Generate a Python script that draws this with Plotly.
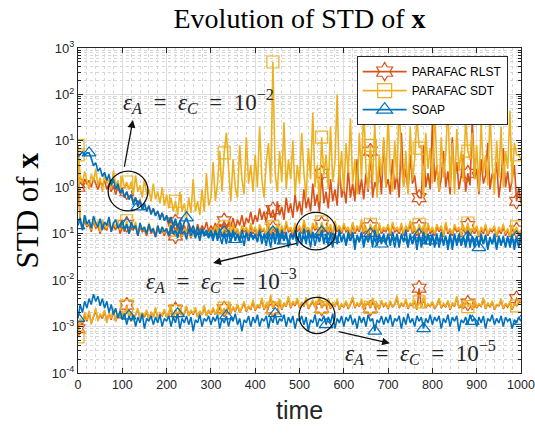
import plotly.graph_objects as go

# ---------------- data ----------------
time = list(range(0, 1001, 5))

# noise level 1e-2
soap_e2 = [4.5, 5.0, 5.8, 4.9, 5.5, 5.5, 4.2, 2.9, 3.4, 2.2, 2.6, 1.7, 2.1, 1.4, 1.9, 1.1, 1.5, 0.9, 1.2, 0.75,
           0.95, 0.6, 0.8, 0.55, 0.7, 0.42, 0.6, 0.38, 0.5, 0.33, 0.45, 0.3, 0.4, 0.26, 0.35, 0.24, 0.31, 0.2, 0.28, 0.19,
           0.25, 0.17, 0.23, 0.15, 0.21, 0.14, 0.19, 0.12, 0.18, 0.22, 0.16, 0.11, 0.15, 0.1, 0.14, 0.095, 0.13, 0.1, 0.12, 0.09,
           0.12, 0.085, 0.11, 0.07, 0.13, 0.09, 0.1, 0.06, 0.12, 0.085, 0.11, 0.075, 0.095, 0.065, 0.12, 0.08, 0.1, 0.07, 0.11, 0.08,
           0.1, 0.065, 0.12, 0.08, 0.09, 0.055, 0.11, 0.075, 0.1, 0.06, 0.13, 0.08, 0.095, 0.07, 0.11, 0.05, 0.1, 0.075, 0.12, 0.07,
           0.1, 0.06, 0.13, 0.075, 0.095, 0.05, 0.11, 0.08, 0.1, 0.065, 0.12, 0.07, 0.09, 0.055, 0.11, 0.075, 0.1, 0.06, 0.12, 0.07,
           0.09, 0.06, 0.11, 0.07, 0.1, 0.045, 0.095, 0.07, 0.11, 0.06, 0.09, 0.065, 0.1, 0.05, 0.12, 0.07, 0.09, 0.06, 0.1, 0.065,
           0.095, 0.055, 0.11, 0.07, 0.09, 0.05, 0.1, 0.065, 0.12, 0.06, 0.085, 0.06, 0.1, 0.045, 0.09, 0.065, 0.11, 0.06, 0.09, 0.07,
           0.1, 0.05, 0.09, 0.065, 0.11, 0.055, 0.085, 0.06, 0.1, 0.045, 0.09, 0.065, 0.1, 0.055, 0.08, 0.06, 0.11, 0.05, 0.09, 0.06,
           0.085, 0.05, 0.1, 0.06, 0.09, 0.045, 0.08, 0.06, 0.1, 0.05, 0.085, 0.055, 0.09, 0.05, 0.08, 0.06, 0.095, 0.045, 0.08, 0.055,
           0.07]
sdt_e2 = [8.0, 1.8, 1.2, 2.2, 1.4, 0.9, 1.9, 1.3, 2.5, 1.1, 1.6, 0.8, 2.0, 1.2, 1.5, 0.9, 2.3, 1.1, 1.4, 0.85,
          1.7, 1.0, 1.3, 0.9, 1.3, 0.7, 1.8, 0.8, 1.1, 0.6, 1.5, 0.7, 0.9, 0.5, 1.2, 0.55, 0.8, 0.45, 1.0, 0.4,
          0.7, 0.35, 0.6, 0.3, 0.5, 0.25, 0.8, 0.3, 0.45, 0.22, 0.6, 0.28, 1.5, 0.3, 0.5, 0.25, 0.9, 0.3, 2.0, 0.4,
          0.6, 3.5, 0.5, 1.2, 6.0, 0.8, 5.5, 15.0, 2.5, 0.5, 4.0, 1.0, 0.6, 8.0, 1.5, 0.7, 12.0, 1.2, 3.0, 0.8,
          5.0, 1.0, 20.0, 1.5, 0.6, 3.5, 9.0, 1.2, 500.0, 2.0, 0.8, 6.0, 1.3, 25.0, 0.9, 4.0, 1.5, 10.0, 0.7, 3.0,
          1.2, 15.0, 2.0, 0.6, 7.0, 1.5, 40.0, 1.0, 3.0, 0.5, 12.0, 1.8, 5.0, 0.9, 20.0, 1.3, 3.5, 100.0, 1.1, 6.0,
          0.8, 9.0, 2.0, 30.0, 1.2, 4.0, 0.7, 15.0, 1.5, 60.0, 2.5, 0.9, 8.0, 1.3, 25.0, 0.6, 5.0, 1.8, 12.0, 1.0,
          40.0, 2.0, 0.8, 10.0, 1.5, 90.0, 3.0, 1.0, 6.0, 0.7, 20.0, 1.4, 4.0, 35.0, 7.0, 8.0, 0.6, 15.0, 2.5, 7.0,
          1.2, 50.0, 3.0, 0.8, 12.0, 1.6, 5.0, 70.0, 1.0, 9.0, 0.7, 18.0, 2.2, 6.0, 1.3, 30.0, 6.0, 4.0, 15.0, 1.5,
          8.0, 0.8, 25.0, 2.0, 5.0, 1.1, 40.0, 3.0, 0.7, 10.0, 1.6, 20.0, 1.0, 6.0, 2.5, 45.0, 1.2, 9.0, 5.0, 5.0,
          4.0]
rlst_e2 = [1.0, 1.3, 1.1, 1.5, 1.2, 1.4, 1.0, 1.6, 1.2, 0.9, 1.3, 1.1, 1.4, 0.9, 1.2, 0.8, 1.1, 0.7, 1.0, 0.75,
           0.9, 0.6, 0.8, 0.55, 0.7, 0.5, 0.6, 0.4, 0.55, 0.35, 0.45, 0.3, 0.4, 0.28, 0.35, 0.25, 0.3, 0.22, 0.28, 0.2,
           0.22, 0.15, 0.2, 0.13, 0.18, 0.12, 0.16, 0.11, 0.15, 0.1, 0.17, 0.12, 0.14, 0.1, 0.16, 0.11, 0.15, 0.12, 0.18, 0.11,
           0.15, 0.12, 0.17, 0.11, 0.16, 0.13, 0.19, 0.12, 0.18, 0.14, 0.22, 0.13, 0.2, 0.15, 0.25, 0.14, 0.22, 0.17, 0.3, 0.16,
           0.25, 0.18, 0.35, 0.2, 0.3, 0.17, 0.4, 0.22, 0.33, 0.19, 0.5, 0.25, 0.38, 0.2, 0.6, 0.28, 0.45, 0.22, 0.7, 0.3,
           0.5, 0.25, 0.9, 0.35, 0.6, 0.3, 1.2, 0.4, 0.7, 0.3, 2.0, 0.45, 0.8, 0.35, 1.5, 0.5, 0.9, 0.4, 3.0, 0.6,
           1.0, 0.45, 2.5, 0.6, 1.2, 0.5, 4.0, 0.7, 1.5, 0.55, 2.0, 0.8, 6.0, 0.6, 1.3, 0.9, 3.0, 0.7, 10.0, 1.0,
           1.5, 0.7, 4.0, 0.9, 2.0, 0.6, 15.0, 1.1, 2.5, 0.8, 5.0, 1.2, 1.8, 0.7, 0.6, 0.6, 8.0, 1.0, 2.0, 0.9,
           25.0, 1.3, 3.0, 0.8, 1.6, 6.0, 1.0, 2.2, 0.7, 12.0, 1.4, 3.5, 0.9, 1.8, 5.0, 0.8, 2.0, 1.1, 30.0, 1.5,
           2.5, 0.7, 4.0, 1.2, 1.8, 9.0, 0.9, 2.0, 1.3, 3.5, 0.6, 1.5, 7.0, 1.0, 2.2, 0.8, 1.5, 3.0, 0.5, 1.0,
           0.45]

# noise level 1e-3
soap_e3 = [0.15, 0.22, 0.12, 0.25, 0.16, 0.2, 0.13, 0.24, 0.17, 0.14, 0.21, 0.12, 0.18, 0.15, 0.23, 0.11, 0.17, 0.2, 0.13, 0.16,
           0.19, 0.12, 0.16, 0.1, 0.18, 0.13, 0.15, 0.09, 0.17, 0.12, 0.14, 0.1, 0.16, 0.11, 0.13, 0.085, 0.15, 0.1, 0.14, 0.11,
           0.13, 0.09, 0.15, 0.1, 0.12, 0.08, 0.14, 0.1, 0.11, 0.075, 0.13, 0.09, 0.12, 0.08, 0.11, 0.07, 0.12, 0.09, 0.1, 0.08,
           0.1, 0.07, 0.12, 0.08, 0.09, 0.06, 0.11, 0.085, 0.1, 0.065, 0.12, 0.07, 0.1, 0.08, 0.09, 0.055, 0.11, 0.07, 0.1, 0.075,
           0.09, 0.07, 0.11, 0.06, 0.1, 0.08, 0.085, 0.05, 0.11, 0.07, 0.1, 0.06, 0.12, 0.075, 0.09, 0.06, 0.1, 0.08, 0.095, 0.055,
           0.11, 0.07, 0.09, 0.06, 0.12, 0.08, 0.1, 0.055, 0.09, 0.07, 0.11, 0.06, 0.1, 0.075, 0.085, 0.05, 0.1, 0.07, 0.11, 0.065,
           0.1, 0.055, 0.09, 0.07, 0.11, 0.06, 0.085, 0.065, 0.1, 0.05, 0.09, 0.07, 0.1, 0.06, 0.08, 0.055, 0.1, 0.065, 0.09, 0.06,
           0.1, 0.065, 0.085, 0.05, 0.1, 0.06, 0.09, 0.07, 0.08, 0.05, 0.1, 0.06, 0.085, 0.065, 0.095, 0.05, 0.08, 0.06, 0.1, 0.055,
           0.085, 0.06, 0.1, 0.05, 0.08, 0.065, 0.09, 0.045, 0.085, 0.06, 0.1, 0.055, 0.08, 0.06, 0.09, 0.05, 0.085, 0.065, 0.08, 0.05,
           0.09, 0.055, 0.08, 0.06, 0.095, 0.05, 0.085, 0.06, 0.08, 0.045, 0.09, 0.06, 0.075, 0.055, 0.09, 0.05, 0.08, 0.06, 0.085, 0.05,
           0.1]
sdt_e3 = [5.0, 0.2, 0.13, 0.25, 0.15, 0.18, 0.12, 0.22, 0.14, 0.19, 0.11, 0.2, 0.15, 0.13, 0.22, 0.12, 0.17, 0.14, 0.2, 0.12,
          0.16, 0.12, 0.19, 0.11, 0.15, 0.13, 0.18, 0.1, 0.16, 0.12, 0.14, 0.1, 0.17, 0.12, 0.13, 0.09, 0.15, 0.11, 0.14, 0.1,
          0.13, 0.09, 0.15, 0.11, 0.12, 0.1, 0.14, 0.09, 0.13, 0.11, 0.12, 0.085, 0.14, 0.1, 0.12, 0.09, 0.13, 0.1, 0.12, 0.095,
          0.13, 0.1, 0.15, 0.11, 0.12, 0.09, 0.14, 0.12, 0.13, 0.1, 0.16, 0.11, 0.13, 0.09, 0.15, 0.12, 0.14, 0.1, 0.17, 0.11,
          0.14, 0.1, 0.16, 0.12, 0.13, 0.09, 0.18, 0.11, 0.14, 0.12, 0.16, 0.1, 0.15, 0.11, 0.19, 0.12, 0.14, 0.1, 0.17, 0.12,
          0.15, 0.11, 0.2, 0.12, 0.14, 0.1, 0.17, 0.13, 0.15, 0.1, 0.18, 0.12, 0.14, 0.11, 0.16, 0.1, 0.19, 0.12, 0.15, 0.11,
          0.17, 0.12, 0.14, 0.1, 0.18, 0.11, 0.15, 0.12, 0.2, 0.11, 0.14, 0.1, 0.16, 0.12, 0.15, 0.09, 0.17, 0.11, 0.14, 0.12,
          0.16, 0.1, 0.18, 0.12, 0.14, 0.11, 0.17, 0.1, 0.15, 0.12, 0.19, 0.11, 0.14, 0.1, 0.16, 0.12, 0.15, 0.09, 0.17, 0.11,
          0.14, 0.1, 0.16, 0.12, 0.15, 0.09, 0.18, 0.11, 0.13, 0.1, 0.16, 0.12, 0.14, 0.09, 0.15, 0.11, 0.17, 0.1, 0.13, 0.11,
          0.15, 0.09, 0.14, 0.11, 0.16, 0.1, 0.13, 0.12, 0.15, 0.09, 0.14, 0.11, 0.16, 0.1, 0.13, 0.09, 0.15, 0.11, 0.14, 0.1,
          0.12]
rlst_e3 = [1.2, 0.18, 0.12, 0.2, 0.14, 0.16, 0.11, 0.19, 0.13, 0.15, 0.1, 0.17, 0.13, 0.12, 0.18, 0.11, 0.15, 0.12, 0.17, 0.1,
           0.14, 0.11, 0.16, 0.1, 0.13, 0.12, 0.15, 0.09, 0.14, 0.11, 0.12, 0.09, 0.15, 0.1, 0.12, 0.085, 0.13, 0.1, 0.12, 0.09,
           0.12, 0.085, 0.13, 0.1, 0.09, 0.09, 0.12, 0.085, 0.12, 0.1, 0.11, 0.08, 0.12, 0.09, 0.11, 0.085, 0.12, 0.09, 0.11, 0.09,
           0.12, 0.09, 0.13, 0.1, 0.11, 0.085, 0.12, 0.11, 0.12, 0.09, 0.14, 0.1, 0.12, 0.085, 0.13, 0.11, 0.12, 0.09, 0.15, 0.1,
           0.13, 0.09, 0.14, 0.11, 0.12, 0.085, 0.15, 0.1, 0.13, 0.11, 0.14, 0.09, 0.13, 0.1, 0.16, 0.11, 0.12, 0.09, 0.15, 0.11,
           0.13, 0.1, 0.17, 0.11, 0.12, 0.09, 0.15, 0.12, 0.13, 0.09, 0.16, 0.11, 0.12, 0.1, 0.14, 0.09, 0.16, 0.11, 0.13, 0.1,
           0.15, 0.11, 0.12, 0.09, 0.16, 0.1, 0.13, 0.11, 0.17, 0.1, 0.12, 0.09, 0.14, 0.11, 0.13, 0.085, 0.15, 0.1, 0.12, 0.11,
           0.14, 0.09, 0.16, 0.11, 0.12, 0.1, 0.15, 0.09, 0.13, 0.11, 0.16, 0.1, 0.12, 0.09, 0.14, 0.11, 0.13, 0.085, 0.15, 0.1,
           0.12, 0.09, 0.14, 0.11, 0.13, 0.085, 0.16, 0.1, 0.12, 0.09, 0.14, 0.11, 0.12, 0.085, 0.13, 0.1, 0.15, 0.09, 0.12, 0.1,
           0.13, 0.085, 0.12, 0.1, 0.14, 0.09, 0.12, 0.11, 0.13, 0.085, 0.12, 0.1, 0.14, 0.09, 0.12, 0.085, 0.13, 0.1, 0.12, 0.09,
           0.11]

# noise level 1e-5
soap_e5 = [0.0015, 0.003, 0.002, 0.0035, 0.0025, 0.004, 0.003, 0.005, 0.0035, 0.0045, 0.0028, 0.004, 0.0025, 0.0035, 0.002, 0.003, 0.0018, 0.0025, 0.0015, 0.0022,
           0.0014, 0.0019, 0.0011, 0.0017, 0.0013, 0.0018, 0.001, 0.0016, 0.0012, 0.0019, 0.0009, 0.0015, 0.0013, 0.0017, 0.0011, 0.0016, 0.0012, 0.0018, 0.001, 0.0015,
           0.0013, 0.0017, 0.001, 0.0016, 0.0012, 0.0019, 0.0009, 0.0015, 0.0012, 0.0017, 0.0011, 0.0016, 0.0008, 0.0014, 0.0012, 0.0018, 0.001, 0.0015, 0.0013, 0.0017,
           0.0011, 0.0016, 0.0013, 0.0018, 0.0009, 0.0015, 0.0012, 0.0017, 0.001, 0.0016, 0.0013, 0.0019, 0.0011, 0.0015, 0.0008, 0.0014, 0.0012, 0.0017, 0.001, 0.0016,
           0.0012, 0.0018, 0.001, 0.0015, 0.0013, 0.0017, 0.0009, 0.0016, 0.0012, 0.0019, 0.0011, 0.0015, 0.0013, 0.0018, 0.001, 0.0016, 0.0012, 0.0017, 0.0009, 0.0015,
           0.0013, 0.0017, 0.0011, 0.0016, 0.0008, 0.0014, 0.0012, 0.0018, 0.001, 0.0015, 0.0013, 0.0017, 0.0011, 0.0016, 0.0012, 0.0019, 0.0009, 0.0015, 0.0012, 0.0017,
           0.001, 0.0016, 0.0013, 0.0018, 0.0011, 0.0015, 0.0009, 0.0017, 0.0012, 0.0016, 0.001, 0.0018, 0.0013, 0.0015, 0.0008, 0.0014, 0.0012, 0.0017, 0.0011, 0.0016,
           0.0012, 0.0018, 0.001, 0.0015, 0.0013, 0.0017, 0.0009, 0.0016, 0.0011, 0.0019, 0.0012, 0.0015, 0.001, 0.0017, 0.0013, 0.0016, 0.0009, 0.0015, 0.0012, 0.0018,
           0.0011, 0.0016, 0.0013, 0.0017, 0.0009, 0.0015, 0.0012, 0.0018, 0.001, 0.0016, 0.0013, 0.0017, 0.0008, 0.0014, 0.0012, 0.0016, 0.0011, 0.0018, 0.0013, 0.0015,
           0.001, 0.0016, 0.0012, 0.0017, 0.0009, 0.0015, 0.0013, 0.0018, 0.0011, 0.0015, 0.0012, 0.0017, 0.001, 0.0016, 0.0013, 0.0015, 0.0009, 0.0014, 0.0012, 0.0016,
           0.0013]
sdt_e5 = [0.0006, 0.0015, 0.0012, 0.002, 0.0014, 0.0022, 0.0011, 0.0018, 0.0025, 0.0013, 0.0019, 0.0016, 0.0023, 0.0012, 0.002, 0.0015, 0.0024, 0.0013, 0.0019, 0.0016,
          0.0022, 0.0014, 0.0028, 0.0017, 0.0021, 0.0013, 0.0019, 0.0025, 0.0015, 0.002, 0.0017, 0.0023, 0.0014, 0.0021, 0.0016, 0.0026, 0.0015, 0.002, 0.0018, 0.0024,
          0.0016, 0.0021, 0.0027, 0.0015, 0.0022, 0.0018, 0.0025, 0.0016, 0.002, 0.0028, 0.0017, 0.0023, 0.0019, 0.0026, 0.0016, 0.0022, 0.0018, 0.0029, 0.0017, 0.0023,
          0.0019, 0.0026, 0.0018, 0.0024, 0.003, 0.0019, 0.0025, 0.0021, 0.0033, 0.002, 0.0027, 0.0022, 0.0031, 0.002, 0.0026, 0.0035, 0.0022, 0.0028, 0.0024, 0.0038,
          0.0023, 0.003, 0.0026, 0.0042, 0.0024, 0.0032, 0.0027, 0.0048, 0.0025, 0.0034, 0.0029, 0.004, 0.0024, 0.0033, 0.0028, 0.0045, 0.0026, 0.0035, 0.003, 0.0041,
          0.0026, 0.0034, 0.0028, 0.0043, 0.0025, 0.0031, 0.0038, 0.0027, 0.0033, 0.0047, 0.0026, 0.0032, 0.0029, 0.0041, 0.0025, 0.0034, 0.0028, 0.0039, 0.0024, 0.0031,
          0.0027, 0.0036, 0.0025, 0.0032, 0.0044, 0.0026, 0.0033, 0.0028, 0.0039, 0.0024, 0.003, 0.0035, 0.0026, 0.0042, 0.0027, 0.0031, 0.0025, 0.0037, 0.0028, 0.0033,
          0.0025, 0.0036, 0.0027, 0.0031, 0.0046, 0.0026, 0.0033, 0.0028, 0.004, 0.0025, 0.0032, 0.0029, 0.0038, 0.0024, 0.0034, 0.0027, 0.0043, 0.0026, 0.0031, 0.0028,
          0.0035, 0.0025, 0.003, 0.0041, 0.0026, 0.0032, 0.0027, 0.0037, 0.0024, 0.0033, 0.0028, 0.0045, 0.0026, 0.003, 0.0025, 0.0036, 0.0027, 0.0032, 0.0024, 0.0039,
          0.0026, 0.0031, 0.0028, 0.0042, 0.0025, 0.0033, 0.0027, 0.0036, 0.0024, 0.003, 0.0029, 0.004, 0.0025, 0.0032, 0.0027, 0.0035, 0.0024, 0.0031, 0.0028, 0.0037,
          0.0035]
rlst_e5 = [0.0009, 0.0014, 0.0011, 0.0018, 0.0013, 0.002, 0.0012, 0.0017, 0.0022, 0.0014, 0.0018, 0.0015, 0.0021, 0.0013, 0.0019, 0.0014, 0.0022, 0.0013, 0.0018, 0.0015,
           0.002, 0.0015, 0.0029, 0.0016, 0.002, 0.0014, 0.0018, 0.0023, 0.0015, 0.0019, 0.0016, 0.0021, 0.0014, 0.002, 0.0016, 0.0024, 0.0015, 0.0019, 0.0017, 0.0022,
           0.0016, 0.002, 0.0025, 0.0015, 0.0023, 0.0017, 0.0023, 0.0016, 0.0019, 0.0026, 0.0017, 0.0022, 0.0018, 0.0024, 0.0016, 0.0021, 0.0018, 0.0026, 0.0017, 0.0022,
           0.0018, 0.0024, 0.0018, 0.0023, 0.0028, 0.0019, 0.0024, 0.002, 0.003, 0.002, 0.0026, 0.0021, 0.0029, 0.002, 0.0025, 0.0032, 0.0021, 0.0027, 0.0023, 0.0034,
           0.0022, 0.0028, 0.0025, 0.0038, 0.0023, 0.003, 0.0026, 0.0043, 0.0024, 0.0032, 0.0028, 0.0037, 0.0023, 0.0031, 0.0027, 0.0041, 0.0025, 0.0033, 0.0028, 0.0038,
           0.0025, 0.0032, 0.0027, 0.004, 0.0024, 0.003, 0.0035, 0.0026, 0.0031, 0.0043, 0.0025, 0.003, 0.0028, 0.0038, 0.0024, 0.0032, 0.0027, 0.0036, 0.0023, 0.003,
           0.0026, 0.0034, 0.0024, 0.003, 0.004, 0.0025, 0.0031, 0.0027, 0.0036, 0.0023, 0.0029, 0.0033, 0.0025, 0.0039, 0.0026, 0.003, 0.0024, 0.0035, 0.0027, 0.0031,
           0.0024, 0.0034, 0.0026, 0.003, 0.0042, 0.0025, 0.0031, 0.0027, 0.0037, 0.0024, 0.003, 0.0028, 0.0035, 0.0023, 0.0067, 0.0026, 0.004, 0.0025, 0.003, 0.0027,
           0.0033, 0.0024, 0.0029, 0.0038, 0.0025, 0.003, 0.0026, 0.0035, 0.0023, 0.0031, 0.0027, 0.0042, 0.0025, 0.0029, 0.0024, 0.0034, 0.0032, 0.003, 0.0023, 0.0036,
           0.0025, 0.003, 0.0027, 0.0039, 0.0024, 0.0031, 0.0026, 0.0034, 0.0023, 0.0029, 0.0028, 0.0037, 0.0024, 0.003, 0.0026, 0.0033, 0.0023, 0.003, 0.004, 0.0035,
           0.0038]

marker_times_std = [0, 110, 220, 330, 440, 550, 660, 770, 880, 990]
marker_times_soap_e2 = [25, 135, 245, 355, 465, 575, 685, 795, 905]
marker_times_soap_e5 = [0, 115, 225, 335, 445, 560, 670, 780, 890, 1000]

names = ["PARAFAC RLST", "PARAFAC SDT", "SOAP"]
colors = {"PARAFAC RLST": "#D95319", "PARAFAC SDT": "#EDB120", "SOAP": "#0072BD"}
symbols = {"PARAFAC RLST": "hexagram-open", "PARAFAC SDT": "square-open", "SOAP": "triangle-up-open"}

series = [
    ("PARAFAC RLST", rlst_e2, marker_times_std),
    ("PARAFAC RLST", rlst_e3, marker_times_std),
    ("PARAFAC RLST", rlst_e5, marker_times_std),
    ("PARAFAC SDT", sdt_e2, marker_times_std),
    ("PARAFAC SDT", sdt_e3, marker_times_std),
    ("PARAFAC SDT", sdt_e5, marker_times_std),
    ("SOAP", soap_e3, marker_times_std),
    ("SOAP", soap_e2, marker_times_soap_e2),
    ("SOAP", soap_e5, marker_times_soap_e5),
]

fig = go.Figure()
for name, vals, mt in series:
    c = colors[name]
    fig.add_trace(go.Scatter(x=time, y=vals, mode="lines", line=dict(color=c, width=1.6),
                             showlegend=False, hoverinfo="skip"))
    mx = [t for t in mt if t in time]
    my = [vals[time.index(t)] for t in mx]
    fig.add_trace(go.Scatter(x=mx, y=my, mode="markers", showlegend=False, hoverinfo="skip",
                             marker=dict(symbol=symbols[name], size=12, color=c,
                                         line=dict(color=c, width=1.2))))

for name in names:
    c = colors[name]
    fig.add_trace(go.Scatter(x=[None], y=[None], mode="lines+markers", name=name,
                             line=dict(color=c, width=1.6),
                             marker=dict(symbol=symbols[name], size=14, color=c,
                                         line=dict(color=c, width=1.2))))

major_y = [10.0 ** e for e in range(-4, 4)]
major_y_text = ["10<sup>%d</sup>" % e for e in range(-4, 4)]
minor_y = [k * 10.0 ** e for e in range(-4, 3) for k in range(2, 10)]

axis_col = "#262626"
fig.update_xaxes(range=[0, 1000], tickmode="array", tickvals=list(range(0, 1001, 100)),
                 ticks="inside", ticklen=5, tickcolor=axis_col, showline=True, linecolor=axis_col,
                 linewidth=1, mirror="ticks", showgrid=True, gridcolor="#dedede", gridwidth=1,
                 zeroline=False, automargin=False, ticklabeloverflow="allow",
                 tickfont=dict(family="Liberation Sans", size=12.5, color=axis_col),
                 minor=dict(dtick=20, tick0=0, ticks="", showgrid=True, gridcolor="#d6d6d6", griddash="dot"))
fig.update_yaxes(type="log", range=[-4, 3], tickmode="array", tickvals=major_y, ticktext=major_y_text,
                 ticks="inside", ticklen=5, tickcolor=axis_col, showline=True, linecolor=axis_col,
                 linewidth=1, mirror="ticks", showgrid=True, gridcolor="#dedede", gridwidth=1,
                 zeroline=False, automargin=False, ticklabeloverflow="allow",
                 tickfont=dict(family="Liberation Sans", size=13, color=axis_col),
                 minor=dict(tickmode="array", tickvals=minor_y, ticks="inside", ticklen=3, tickcolor=axis_col,
                            showgrid=True, gridcolor="#d6d6d6", griddash="dot"))

serif = "Liberation Serif"
math_font = dict(family=serif, size=23, color="#262626")
eq = "&nbsp;&nbsp;=&nbsp;&nbsp;"
lab = "<i>ε</i><sub><i>A</i></sub>" + eq + "<i>ε</i><sub><i>C</i></sub>" + eq + "10<sup>−%d</sup>"
ann = [
    dict(text=lab % 2, x=271, y=1.84, xref="x", yref="y", showarrow=False, font=math_font),
    dict(text=lab % 3, x=325, y=-2.0, xref="x", yref="y", showarrow=False, font=math_font),
    dict(text=lab % 5, x=774, y=-3.55, xref="x", yref="y", showarrow=False, font=math_font),
    dict(text="", x=124, y=1.45, ax=104, ay=0.41, xref="x", yref="y", axref="x", ayref="y",
         showarrow=True, arrowhead=2, arrowsize=1.2, arrowwidth=1.3, arrowcolor="#111111"),
    dict(text="", x=305, y=-1.63, ax=497, ay=-1.20, xref="x", yref="y", axref="x", ayref="y",
         showarrow=True, arrowhead=2, arrowsize=1.2, arrowwidth=1.3, arrowcolor="#111111"),
    dict(text="", x=704, y=-3.36, ax=585, ay=-3.10, xref="x", yref="y", axref="x", ayref="y",
         showarrow=True, arrowhead=2, arrowsize=1.2, arrowwidth=1.3, arrowcolor="#111111"),
    dict(text="STD of <b>x</b>", x=-0.113, y=0.5, xref="paper", yref="paper", showarrow=False,
         xanchor="center", yanchor="middle",
         textangle=-90, font=dict(family=serif, size=31, color="#000000")),
    dict(text="time", x=0.5, y=-0.114, xref="paper", yref="paper", showarrow=False,
         xanchor="center", yanchor="middle",
         font=dict(family="Liberation Sans", size=25, color="#262626")),
]

shapes = [
    dict(type="circle", xref="x", yref="y", x0=68, x1=158, y0=10 ** -0.51, y1=10 ** 0.35,
         line=dict(color="#111111", width=1.3)),
    dict(type="circle", xref="x", yref="y", x0=492, x1=582, y0=10 ** -1.35, y1=10 ** -0.54,
         line=dict(color="#111111", width=1.3)),
    dict(type="circle", xref="x", yref="y", x0=499, x1=580, y0=10 ** -3.15, y1=10 ** -2.37,
         line=dict(color="#111111", width=1.3)),
]

fig.update_layout(
    width=535, height=434,
    margin=dict(l=78, r=14, t=48, b=61),
    paper_bgcolor="white", plot_bgcolor="white",
    title=dict(text="Evolution of STD of <b>x</b>", x=0.5, xref="paper", xanchor="center",
               y=1 - 18 / 434, yanchor="middle",
               font=dict(family=serif, size=28, color="#000000")),
    legend=dict(x=0.629, y=0.975, xanchor="left", yanchor="top", bgcolor="white",
                bordercolor="#262626", borderwidth=1,
                font=dict(family="Liberation Sans", size=12, color="#000000"),
                tracegroupgap=0, itemwidth=44),
    annotations=ann, shapes=shapes,
)

fig.write_html("out.html")
